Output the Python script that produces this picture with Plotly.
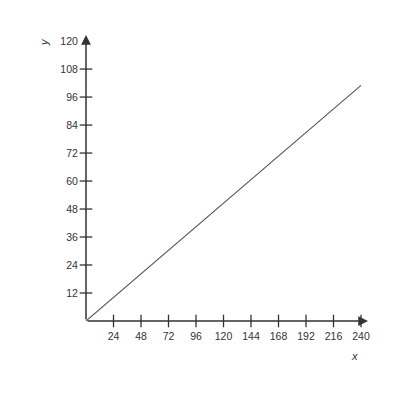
import plotly.graph_objs as go

# line data
line_x = [0, 240]
line_y = [0, 101]

x_ticks = [24, 48, 72, 96, 120, 144, 168, 192, 216, 240]
y_ticks = [12, 24, 36, 48, 60, 72, 84, 96, 108, 120]

x_max = 246.1
y_max = 122.6
axis_color = "#333333"

# the page body adds 8px around the figure
page_off = 8
m_l, m_r, m_t, m_b = 78, 40, 27, 87

fig = go.Figure()

fig.add_trace(go.Scatter(
    x=line_x,
    y=line_y,
    mode="lines",
    line=dict(color="#555555", width=1.1),
    showlegend=False,
    hoverinfo="skip",
))

# small ticks crossing the axes
fig.add_trace(go.Scatter(
    x=x_ticks,
    y=[0] * len(x_ticks),
    mode="markers",
    marker=dict(symbol="line-ns-open", size=9, color=axis_color,
                line=dict(color=axis_color, width=1.3)),
    cliponaxis=False,
    showlegend=False,
    hoverinfo="skip",
))
fig.add_trace(go.Scatter(
    x=[0] * (len(y_ticks) - 1),
    y=y_ticks[:-1],
    mode="markers",
    marker=dict(symbol="line-ew-open", size=9, color=axis_color,
                line=dict(color=axis_color, width=1.3)),
    cliponaxis=False,
    showlegend=False,
    hoverinfo="skip",
))

tick_font = dict(family="Liberation Sans, Arial", size=10.5, color="#333333")

fig.update_xaxes(
    range=[0, x_max],
    tickvals=x_ticks,
    ticks="outside",
    ticklen=5,
    tickcolor="rgba(0,0,0,0)",
    tickfont=tick_font,
    showgrid=False,
    zeroline=False,
    showline=False,
    automargin=False,
)
fig.update_yaxes(
    range=[0, y_max],
    tickvals=y_ticks,
    ticks="outside",
    ticklen=5,
    tickcolor="rgba(0,0,0,0)",
    tickfont=tick_font,
    showgrid=False,
    zeroline=False,
    showline=False,
    automargin=False,
)

fig.update_layout(
    width=400,
    height=400,
    margin=dict(l=m_l, r=m_r, t=m_t, b=m_b),
    plot_bgcolor="white",
    paper_bgcolor="white",
    annotations=[
        # axis arrows
        dict(x=x_max, y=0, ax=0, ay=0, xref="x", yref="y", axref="x", ayref="y",
             showarrow=True, arrowhead=2, arrowsize=1.3, arrowwidth=1.5,
             arrowcolor=axis_color, text=""),
        dict(x=0, y=y_max, ax=0, ay=0, xref="x", yref="y", axref="x", ayref="y",
             showarrow=True, arrowhead=2, arrowsize=1.3, arrowwidth=1.5,
             arrowcolor=axis_color, text=""),
        # axis labels (page pixel positions, converted below)
        dict(x=354, y=356, xref="paper", yref="paper", text="<i>x</i>", showarrow=False,
             xanchor="center", yanchor="middle",
             font=dict(family="Liberation Sans, Arial", size=11, color="#333333")),
        dict(x=44, y=42, xref="paper", yref="paper", text="<i>y</i>", showarrow=False,
             textangle=-90, xanchor="center", yanchor="middle",
             font=dict(family="Liberation Sans, Arial", size=11, color="#333333")),
    ],
)

plot_w = 400 - m_l - m_r
plot_h = 400 - m_t - m_b
for ann in fig.layout.annotations[2:]:
    ann.x = (ann.x - page_off - m_l) / plot_w
    ann.y = (page_off + 400 - m_b - ann.y) / plot_h

fig.write_html("out.html")
